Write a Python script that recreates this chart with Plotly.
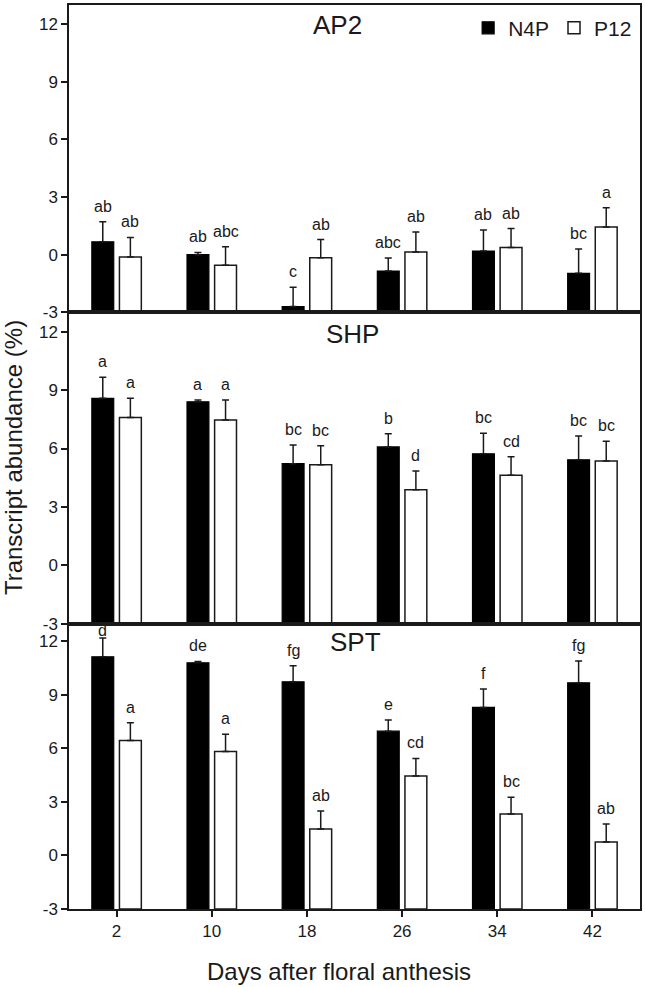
import plotly.graph_objects as go
from plotly.subplots import make_subplots

days = ["2", "10", "18", "26", "34", "42"]
genes = ["AP2", "SHP", "SPT"]

# AP2
ap2_n4p = [0.67, 0.0, -2.7, -0.85, 0.19, -0.97]
ap2_n4p_err = [1.04, 0.12, 1.0, 0.68, 1.09, 1.27]
ap2_p12 = [-0.12, -0.55, -0.16, 0.14, 0.38, 1.44]
ap2_p12_err = [1.02, 0.97, 0.95, 1.04, 0.98, 1.0]
ap2_n4p_lbl = ["ab", "ab", "c", "abc", "ab", "bc"]
ap2_p12_lbl = ["ab", "abc", "ab", "ab", "ab", "a"]

# SHP
shp_n4p = [8.58, 8.40, 5.22, 6.08, 5.73, 5.42]
shp_n4p_err = [1.08, 0.10, 0.96, 0.68, 1.06, 1.22]
shp_p12 = [7.60, 7.46, 5.17, 3.88, 4.62, 5.36]
shp_p12_err = [0.99, 1.03, 0.97, 0.96, 0.96, 1.02]
shp_n4p_lbl = ["a", "a", "bc", "b", "bc", "bc"]
shp_p12_lbl = ["a", "a", "bc", "d", "cd", "bc"]

# SPT
spt_n4p = [11.14, 10.80, 9.74, 6.97, 8.30, 9.68]
spt_n4p_err = [1.05, 0.08, 0.90, 0.62, 1.04, 1.23]
spt_p12 = [6.45, 5.83, 1.49, 4.45, 2.32, 0.75]
spt_p12_err = [0.99, 0.97, 1.00, 0.99, 0.95, 1.01]
spt_n4p_lbl = ["d", "de", "fg", "e", "f", "fg"]
spt_p12_lbl = ["a", "a", "ab", "cd", "bc", "ab"]

y_min, y_max = -3, 13
y_ticks = [-3, 0, 3, 6, 9, 12]
y_tick_text = ["-3", "0", "3", "6", "9", "12"]

panels = [
    (ap2_n4p, ap2_n4p_err, ap2_n4p_lbl, ap2_p12, ap2_p12_err, ap2_p12_lbl),
    (shp_n4p, shp_n4p_err, shp_n4p_lbl, shp_p12, shp_p12_err, shp_p12_lbl),
    (spt_n4p, spt_n4p_err, spt_n4p_lbl, spt_p12, spt_p12_err, spt_p12_lbl),
]

FONT = "Liberation Sans, Arial, sans-serif"
LINE = "#1a1a1a"
BW = 0.23
OFF_N = -0.26
OFF_P = 0.03

fig = make_subplots(rows=3, cols=1, shared_xaxes=True, vertical_spacing=0,
                    row_heights=[308, 312, 286])

for r, (nv, ne, nl, pv, pe, pl) in enumerate(panels, start=1):
    fig.add_trace(go.Bar(
        x=days, y=[v - y_min for v in nv], base=y_min, width=BW, offset=OFF_N,
        name="N4P", marker=dict(color="black", line=dict(color="black", width=1.2)),
        error_y=dict(type="data", array=ne, arrayminus=[0] * len(ne), symmetric=False,
                     color=LINE, thickness=1.5, width=3.5),
        showlegend=(r == 1), legendgroup="N4P"), row=r, col=1)
    fig.add_trace(go.Bar(
        x=days, y=[v - y_min for v in pv], base=y_min, width=BW, offset=OFF_P,
        name="P12", marker=dict(color="white", line=dict(color=LINE, width=1.5)),
        error_y=dict(type="data", array=pe, arrayminus=[0] * len(pe), symmetric=False,
                     color=LINE, thickness=1.5, width=3.5),
        showlegend=(r == 1), legendgroup="P12"), row=r, col=1)
    xref = "x" if r == 1 else f"x{r}"
    yref = "y" if r == 1 else f"y{r}"
    for i, d in enumerate(days):
        for val, err, lbl, off in ((nv[i], ne[i], nl[i], OFF_N), (pv[i], pe[i], pl[i], OFF_P)):
            top = val + err
            fig.add_annotation(x=i + off + BW / 2, y=top, xref=xref, yref=yref,
                               text=lbl, showarrow=False, yanchor="bottom",
                               yshift=(5 if top < 12 else -3),
                               font=dict(size=16, color="#1a1a1a", family=FONT))
    fig.update_yaxes(range=[y_min, y_max], tickvals=y_ticks, ticktext=y_tick_text,
                     ticks="outside", ticklen=6,
                     tickwidth=1.5, tickcolor=LINE, showline=True, linecolor=LINE,
                     linewidth=1.5, mirror=True, showgrid=False, zeroline=False,
                     tickfont=dict(size=17, color="#1a1a1a", family=FONT), row=r, col=1)
    fig.update_xaxes(type="category", range=[-0.5, 5.5], showline=True, linecolor=LINE,
                     linewidth=1.5, mirror=True, showgrid=False, zeroline=False,
                     ticks="outside" if r == 3 else "", ticklen=6, tickwidth=1.5,
                     tickcolor=LINE, showticklabels=(r == 3),
                     tickfont=dict(size=17, color="#1a1a1a", family=FONT), row=r, col=1)

# panel titles
title_pos = [(0.471, 0.978), (0.496, 0.636), (0.501, 0.295)]
for g, (tx, ty) in zip(genes, title_pos):
    fig.add_annotation(x=tx, y=ty, xref="paper", yref="paper", text=g, showarrow=False,
                       xanchor="center", yanchor="middle",
                       font=dict(size=26, color="#1a1a1a", family=FONT))

fig.add_annotation(x=-0.096, y=0.499, xref="paper", yref="paper",
                   text="Transcript abundance (%)", textangle=-90, showarrow=False,
                   xanchor="center", yanchor="middle",
                   font=dict(size=24, color="#1a1a1a", family=FONT))
fig.add_annotation(x=0.472, y=-0.069, xref="paper", yref="paper",
                   text="Days after floral anthesis", showarrow=False,
                   xanchor="center", yanchor="middle",
                   font=dict(size=24, color="#1a1a1a", family=FONT))

fig.update_layout(
    width=645, height=987,
    margin=dict(l=69, r=3, t=3, b=78),
    paper_bgcolor="white", plot_bgcolor="white",
    barmode="group",
    showlegend=True,
    legend=dict(orientation="h", x=0.995, xanchor="right", y=0.997, yanchor="top",
                font=dict(size=21, color="#1a1a1a", family=FONT),
                bgcolor="rgba(0,0,0,0)", itemwidth=30, tracegroupgap=0),
    font=dict(family=FONT),
)

fig.write_html("out.html", config={"displayModeBar": False},
               post_script="document.body.style.margin='0';")
